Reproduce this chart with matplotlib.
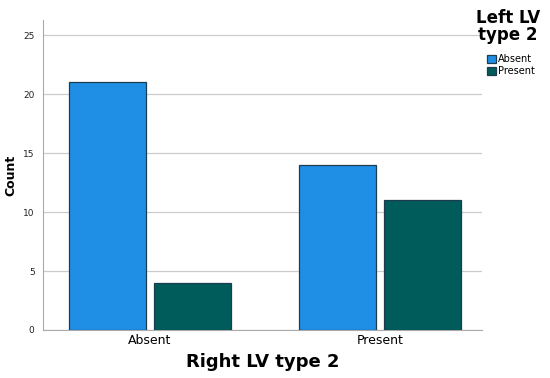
import matplotlib.pyplot as plt
import numpy as np

# data
categories = ["Absent", "Present"]          # Right LV type 2
absent_counts = [21, 14]                     # Left LV type 2 = Absent
present_counts = [4, 11]                     # Left LV type 2 = Present
y_ticks = [0, 5, 10, 15, 20, 25]

fig = plt.figure(figsize=(5.5, 3.78), dpi=100)
ax = fig.add_axes([0.078, 0.127, 0.798, 0.82])

x = np.arange(len(categories))
w = 0.335
off = 0.185
ax.bar(x - off, absent_counts, w, color="#1f8fe6", edgecolor="#1c3c50",
       linewidth=0.9, label="Absent", zorder=3)
ax.bar(x + off, present_counts, w, color="#005b5b", edgecolor="#1c3c50",
       linewidth=0.9, label="Present", zorder=3)

ax.set_xlim(-0.465, 1.443)
ax.set_ylim(0, 26.3)
ax.set_yticks(y_ticks)
ax.set_xticks(x)
ax.set_xticklabels(categories, fontsize=9)
ax.tick_params(axis="y", labelsize=6.5, length=0, pad=6, colors="#222222")
ax.tick_params(axis="x", length=0, pad=3)
ax.yaxis.grid(True, color="#cccccc", linewidth=0.9, zorder=0)
for s in ["top", "right"]:
    ax.spines[s].set_visible(False)
ax.spines["left"].set_color("#aaaaaa")
ax.spines["bottom"].set_color("#aaaaaa")

ax.set_ylabel("Count", fontsize=9, fontweight="bold", labelpad=4)
ax.set_xlabel("Right LV type 2", fontsize=13, fontweight="bold", labelpad=4)

# legend title drawn separately so the gap to the entries matches
fig.text(0.924, 0.929, "Left LV\ntype 2", fontsize=12, fontweight="bold",
         ha="center", va="center", linespacing=0.95)
fig.legend(loc="upper left", bbox_to_anchor=(0.886, 0.857),
           frameon=False, fontsize=7,
           handlelength=0.9, handleheight=0.9, handletextpad=0.2,
           labelspacing=0.2, borderaxespad=0, borderpad=0)

fig.savefig("out.png", dpi=100)
